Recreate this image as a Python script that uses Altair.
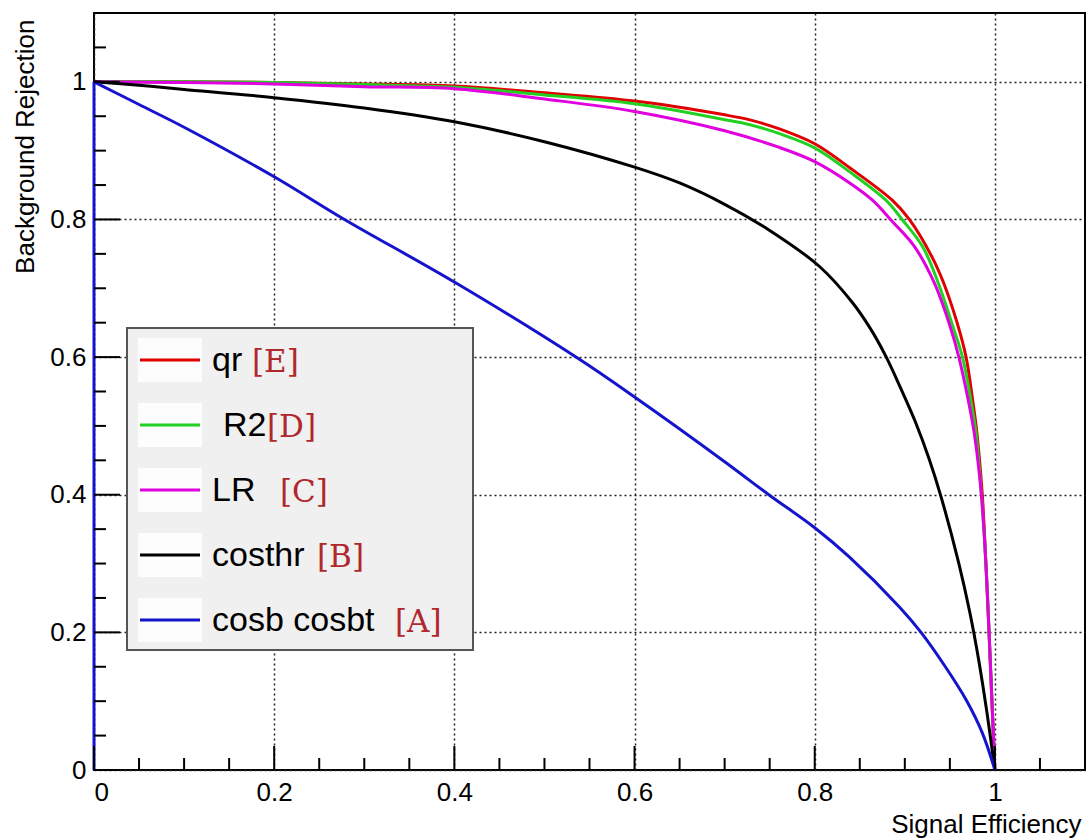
import altair as alt
import pandas as pd

# ROC curves: background rejection vs signal efficiency
QR_EFF = [0, 0.1, 0.2, 0.3, 0.4, 0.5, 0.6, 0.7, 0.727, 0.76, 0.8, 0.84, 0.886, 0.905,
          0.93, 0.943, 0.958, 0.968, 0.975, 0.98, 0.986, 0.99, 0.9935, 0.9967, 1.0]
QR_REJ = [1.0, 1.0, 0.999, 0.997, 0.994, 0.984, 0.972, 0.952, 0.945, 0.932, 0.91, 0.874,
          0.828, 0.8, 0.746, 0.708, 0.65, 0.6, 0.54, 0.49, 0.4, 0.3, 0.2, 0.1, 0.0]

R2_EFF = [0, 0.1, 0.2, 0.3, 0.4, 0.5, 0.6, 0.7, 0.727, 0.76, 0.8, 0.84, 0.879, 0.897, 0.92,
          0.937, 0.952, 0.964, 0.973, 0.979, 0.985, 0.99, 0.9935, 0.9967, 1.0]
R2_REJ = [1.0, 1.0, 0.999, 0.996, 0.992, 0.981, 0.968, 0.945, 0.938, 0.925, 0.904, 0.868,
          0.828, 0.8, 0.76, 0.708, 0.65, 0.6, 0.54, 0.49, 0.4, 0.3, 0.2, 0.1, 0.0]

LR_EFF = [0, 0.1, 0.2, 0.3, 0.4, 0.5, 0.6, 0.7, 0.76, 0.8, 0.84, 0.865, 0.884, 0.91,
          0.932, 0.949, 0.96, 0.97, 0.977, 0.985, 0.99, 0.9935, 0.9967, 1.0]
LR_REJ = [1.0, 0.999, 0.997, 0.993, 0.990, 0.975, 0.957, 0.929, 0.905, 0.884, 0.852, 0.827,
          0.8, 0.762, 0.71, 0.65, 0.6, 0.54, 0.49, 0.4, 0.3, 0.2, 0.1, 0.0]

COSTHR_EFF = [0, 0.05, 0.1, 0.2, 0.3, 0.4, 0.5, 0.6, 0.65, 0.7, 0.75, 0.805, 0.842, 0.862,
              0.879, 0.895, 0.912, 0.927, 0.94, 0.96, 0.972, 0.982, 0.991, 1.0]
COSTHR_REJ = [1.0, 0.995, 0.989, 0.977, 0.962, 0.942, 0.913, 0.876, 0.853, 0.822, 0.784, 0.732,
              0.679, 0.641, 0.601, 0.556, 0.505, 0.452, 0.398, 0.3, 0.23, 0.16, 0.085, 0.0]

COSB_EFF = [0, 0, 0.05, 0.1, 0.2, 0.278, 0.4, 0.535, 0.6, 0.7, 0.749, 0.8, 0.838, 0.894,
            0.918, 0.945, 0.968, 0.986, 1.0]
COSB_REJ = [0.0, 1.0, 0.967, 0.934, 0.862, 0.8, 0.709, 0.6, 0.542, 0.448, 0.4, 0.352, 0.31,
            0.237, 0.2, 0.15, 0.102, 0.054, 0.0]

LABELS = ["qr", "R2", "LR", "costhr", "cosb cosbt"]
TAGS = ["[E]", "[D]", "[C]", "[B]", "[A]"]
COLORS = ["#e00000", "#22d022", "#e000e0", "#000000", "#1414cc"]

MAJOR = [0, 0.2, 0.4, 0.6, 0.8, 1.0]
MINOR = [0.05, 0.1, 0.15, 0.25, 0.3, 0.35, 0.45, 0.5, 0.55, 0.65, 0.7, 0.75,
         0.85, 0.9, 0.95, 1.05]

SERIES = {
    "qr": (QR_EFF, QR_REJ),
    "R2": (R2_EFF, R2_REJ),
    "LR": (LR_EFF, LR_REJ),
    "costhr": (COSTHR_EFF, COSTHR_REJ),
    "cosb cosbt": (COSB_EFF, COSB_REJ),
}

W, H = 991, 757
FONT = "Liberation Sans"
XS = alt.Scale(domain=[0, 1.1], nice=False, zero=False)
YS = alt.Scale(domain=[0, 1.1], nice=False, zero=False)

X_AXIS = alt.Axis(values=MAJOR, format="~g", title="Signal Efficiency", grid=True,
                  gridDash=[2, 3], gridColor="#222222", gridWidth=1.5, domain=False,
                  ticks=False, labelFont=FONT, labelFontSize=26, labelColor="black",
                  labelPadding=9, titleFont=FONT, titleFontSize=26, titleFontWeight="normal",
                  titleColor="black", titleX=W - 4, titleY=62, titleAlign="right",
                  titleBaseline="alphabetic")
Y_AXIS = alt.Axis(values=MAJOR, format="~g", title="Background Rejection", grid=True,
                  gridDash=[2, 3], gridColor="#222222", gridWidth=1.5, domain=False,
                  ticks=False, labelFont=FONT, labelFontSize=26, labelColor="black",
                  labelPadding=8, titleFont=FONT, titleFontSize=26, titleFontWeight="normal",
                  titleColor="black", titleAngle=270, titleX=-61, titleY=6,
                  titleAlign="right", titleBaseline="alphabetic")


def xenc(field):
    return alt.X(field, scale=XS, axis=X_AXIS)


def yenc(field):
    return alt.Y(field, scale=YS, axis=Y_AXIS)


one = pd.DataFrame({"k": [0]})

# inward-pointing ticks along the bottom and left edges
ticks_major = pd.DataFrame({"v": MAJOR})
ticks_minor = pd.DataFrame({"v": MINOR})
xt_major = alt.Chart(ticks_major).mark_rule(color="black", strokeWidth=2).encode(
    x=xenc("v:Q"), y=alt.value(H), y2=alt.value(H - 24))
xt_minor = alt.Chart(ticks_minor).mark_rule(color="black", strokeWidth=2).encode(
    x=xenc("v:Q"), y=alt.value(H), y2=alt.value(H - 12))
yt_major = alt.Chart(ticks_major).mark_rule(color="black", strokeWidth=2).encode(
    y=yenc("v:Q"), x=alt.value(0), x2=alt.value(26))
yt_minor = alt.Chart(ticks_minor).mark_rule(color="black", strokeWidth=2).encode(
    y=yenc("v:Q"), x=alt.value(0), x2=alt.value(12))

# curves; the main part is smoothed, a leading vertical step stays straight
curves = []
for name in ["qr", "R2", "LR", "costhr", "cosb cosbt"]:
    ex, ry = SERIES[name]
    col = COLORS[LABELS.index(name)]
    start = 0
    while start + 1 < len(ex) and ex[start + 1] == ex[start]:
        start += 1
    if start > 0:
        step = pd.DataFrame({"eff": ex[:start + 1], "rej": ry[:start + 1],
                             "i": list(range(start + 1))})
        curves.append(alt.Chart(step).mark_line(color=col, strokeWidth=3, clip=False).encode(
            x=xenc("eff:Q"), y=yenc("rej:Q"), order=alt.Order("i:Q")))
    d = pd.DataFrame({"eff": ex[start:], "rej": ry[start:], "i": list(range(len(ex) - start))})
    curves.append(
        alt.Chart(d).mark_line(color=col, strokeWidth=3, clip=False,
                               interpolate="catmull-rom").encode(
            x=xenc("eff:Q"), y=yenc("rej:Q"), order=alt.Order("i:Q")))

# legend box
leg = [alt.Chart(one).mark_rect(fill="#f0f0f0", stroke="#555555", strokeWidth=2).encode(
    x=alt.value(33), x2=alt.value(379), y=alt.value(315), y2=alt.value(637))]
row_y = [347, 412, 477, 542, 607]
label_x = [118, 129, 118, 118, 118]
tag_x = [158, 173, 186, 223, 301]
for lab, tag, col, ry, lx, tx in zip(LABELS, TAGS, COLORS, row_y, label_x, tag_x):
    leg.append(alt.Chart(one).mark_rect(fill="white", opacity=0.85).encode(
        x=alt.value(44), x2=alt.value(108), y=alt.value(ry - 22), y2=alt.value(ry + 22)))
    leg.append(alt.Chart(one).mark_rule(color=col, strokeWidth=3).encode(
        x=alt.value(46), x2=alt.value(106), y=alt.value(ry)))
    leg.append(alt.Chart(one).mark_text(
        text=lab, font=FONT, fontSize=34, color="black", align="left",
        baseline="middle").encode(x=alt.value(lx), y=alt.value(ry + 1)))
    leg.append(alt.Chart(one).mark_text(
        text=tag, font="DejaVu Serif", fontSize=31, color="#b0282c", align="left",
        baseline="middle").encode(x=alt.value(tx), y=alt.value(ry + 3)))

chart = alt.layer(*curves, *leg, xt_major, xt_minor, yt_major, yt_minor).properties(
    width=W, height=H,
    autosize=alt.AutoSizeParams(type="none"),
    padding={"left": 94, "top": 13, "right": 2, "bottom": 69},
    background="white",
).configure_view(stroke="black", strokeWidth=2)

chart.save("out.html", embed_options={"renderer": "svg", "actions": False})
